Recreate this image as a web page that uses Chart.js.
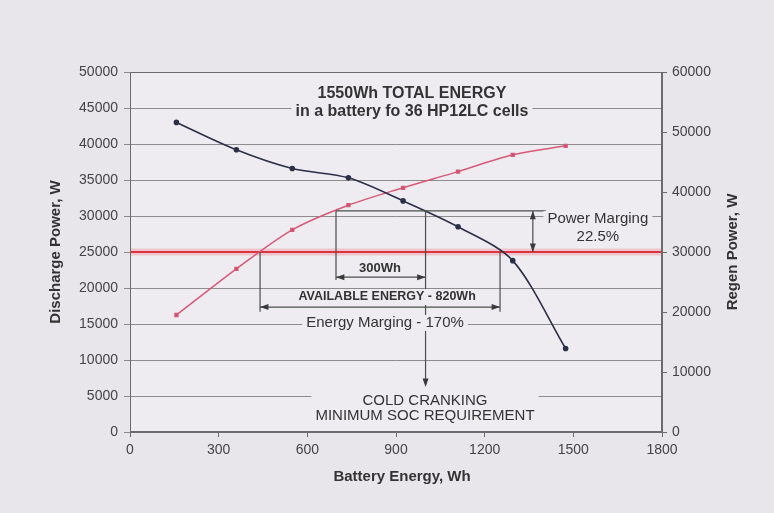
<!DOCTYPE html>
<html>
<head>
<meta charset="utf-8">
<script src="https://cdn.jsdelivr.net/npm/chart.js@4.4.0/dist/chart.umd.min.js"></script>
<style>
  body { margin: 0; background: #e9e6eb; }
  #wrap { width: 774px; height: 513px; }
</style>
</head>
<body>
<div id="wrap"><canvas id="chart"></canvas></div>
<script>
// values
const energyWh = [157, 360, 549, 739, 924, 1110, 1295, 1474];
const dischargeW = [43000, 39200, 36600, 35300, 32100, 28500, 23800, 11600];
const regenW = [19500, 27200, 33700, 37800, 40700, 43400, 46200, 47700];
const limitEnergy = [0, 1800];
const limitW = [25000, 25000];

const energyTicks = [0, 300, 600, 900, 1200, 1500, 1800];
const dischargeTicks = [0, 5000, 10000, 15000, 20000, 25000, 30000, 35000, 40000, 45000, 50000];
const regenTicks = [0, 10000, 20000, 30000, 40000, 50000, 60000];

// annotation values (Wh / W)
const marginW = 30700;
const window300 = [697, 1000];
const window820 = [440, 1252];
const powerMarginWh = 1363;
const marginLineEnd = 1407;

const PAGE = '#e9e6eb';
const PLOT = '#eeecf0';
const INK = '#333333';
const FONT = '"Liberation Sans", Arial, sans-serif';

function arrowHead(ctx, x, y, dir, size) {
  const s = size || 6;
  ctx.beginPath();
  ctx.moveTo(x, y);
  if (dir === 'left') { ctx.lineTo(x + s * 1.4, y - s / 2); ctx.lineTo(x + s * 1.4, y + s / 2); }
  if (dir === 'right') { ctx.lineTo(x - s * 1.4, y - s / 2); ctx.lineTo(x - s * 1.4, y + s / 2); }
  if (dir === 'up') { ctx.lineTo(x - s / 2, y + s * 1.4); ctx.lineTo(x + s / 2, y + s * 1.4); }
  if (dir === 'down') { ctx.lineTo(x - s / 2, y - s * 1.4); ctx.lineTo(x + s / 2, y - s * 1.4); }
  ctx.closePath();
  ctx.fill();
}

// one or more centred lines, with an optional box behind them all
function label(ctx, lines, x, y, font, bg, gap) {
  ctx.font = font;
  const step = gap || 17;
  const w = Math.max(...lines.map(t => ctx.measureText(t).width));
  if (bg) {
    ctx.fillStyle = PLOT;
    ctx.fillRect(x - w / 2 - 4, y - 8, w + 8, 16 + step * (lines.length - 1));
  }
  ctx.fillStyle = INK;
  ctx.textAlign = 'center';
  ctx.textBaseline = 'middle';
  lines.forEach((t, i) => ctx.fillText(t, x, y + i * step));
}

const backdrop = {
  id: 'backdrop',
  beforeDraw(chart) {
    const {ctx, chartArea: a} = chart;
    ctx.save();
    ctx.fillStyle = PAGE;
    ctx.fillRect(0, 0, chart.width, chart.height);
    ctx.fillStyle = PLOT;
    ctx.fillRect(a.left, a.top, a.right - a.left, a.bottom - a.top);
    ctx.restore();
  },
  afterDraw(chart) {
    const {ctx, chartArea: a} = chart;
    const X = v => chart.scales.x.getPixelForValue(v);
    const Y = v => chart.scales.y.getPixelForValue(v);
    ctx.save();

    // frame
    ctx.strokeStyle = '#6b6b6b';
    ctx.lineWidth = 1;
    ctx.strokeRect(a.left + 0.5, a.top + 0.5, a.right - a.left - 1, a.bottom - a.top - 1);

    // annotation lines
    ctx.strokeStyle = '#4a4f4a';
    ctx.fillStyle = '#3a3a3a';
    ctx.lineWidth = 1.2;
    const yM = Y(marginW);
    ctx.beginPath();
    ctx.moveTo(X(window300[0]), yM); ctx.lineTo(X(marginLineEnd), yM);
    // 300Wh window
    ctx.moveTo(X(window300[0]), yM); ctx.lineTo(X(window300[0]), Y(21100));
    ctx.moveTo(X(window300[1]), yM); ctx.lineTo(X(window300[1]), Y(6600));
    ctx.moveTo(X(window300[0]), Y(21500)); ctx.lineTo(X(window300[1]), Y(21500));
    // 820Wh window
    ctx.moveTo(X(window820[0]), Y(25000)); ctx.lineTo(X(window820[0]), Y(16700));
    ctx.moveTo(X(window820[1]), Y(25000)); ctx.lineTo(X(window820[1]), Y(16700));
    ctx.moveTo(X(window820[0]), Y(17350)); ctx.lineTo(X(window820[1]), Y(17350));
    // power margin
    ctx.moveTo(X(powerMarginWh), yM); ctx.lineTo(X(powerMarginWh), Y(25000));
    ctx.stroke();

    arrowHead(ctx, X(window300[0]), Y(21500), 'left');
    arrowHead(ctx, X(window300[1]), Y(21500), 'right');
    arrowHead(ctx, X(window820[0]), Y(17350), 'left');
    arrowHead(ctx, X(window820[1]), Y(17350), 'right');
    arrowHead(ctx, X(powerMarginWh), yM, 'up');
    arrowHead(ctx, X(powerMarginWh), Y(25000), 'down');
    arrowHead(ctx, X(window300[1]), Y(6250), 'down');

    // texts
    label(ctx, ['1550Wh TOTAL ENERGY', 'in a battery fo 36 HP12LC cells'], X(954), Y(47000), 'bold 16px ' + FONT, true, 18);
    label(ctx, ['Power Marging', '22.5%'], X(1583), Y(29580), '15px ' + FONT, true, 18);
    label(ctx, ['300Wh'], X(846), Y(22780), 'bold 13px ' + FONT, false);
    label(ctx, ['AVAILABLE ENERGY - 820Wh'], X(870), Y(18750), 'bold 12.5px ' + FONT, true);
    label(ctx, ['Energy Marging - 170%'], X(863), Y(15140), '15px ' + FONT, true);
    label(ctx, ['COLD CRANKING', 'MINIMUM SOC REQUIREMENT'], X(998), Y(4300), '15px ' + FONT, true, 15);

    // axis titles
    ctx.font = 'bold 15px ' + FONT;
    ctx.fillStyle = INK;
    ctx.textAlign = 'center';
    ctx.textBaseline = 'middle';
    ctx.fillText('Battery Energy, Wh', 402, 477);
    ctx.save();
    ctx.translate(56, (a.top + a.bottom) / 2);
    ctx.rotate(-Math.PI / 2);
    ctx.fillText('Discharge Power, W', 0, 0);
    ctx.restore();
    ctx.save();
    ctx.translate(733, (a.top + a.bottom) / 2);
    ctx.rotate(-Math.PI / 2);
    ctx.fillText('Regen Power, W', 0, 0);
    ctx.restore();

    ctx.restore();
  }
};

const tickFont = {family: FONT, size: 14};
const plain = v => String(v);

new Chart(document.getElementById('chart'), {
  type: 'line',
  data: {
    datasets: [
      {
        label: 'Discharge Power',
        data: energyWh.map((x, i) => ({x, y: dischargeW[i]})),
        yAxisID: 'y',
        borderColor: '#2b2f48',
        backgroundColor: '#2b2f48',
        borderWidth: 1.6,
        pointRadius: 2,
        pointStyle: 'circle',
        tension: 0.3,
        order: 1
      },
      {
        label: 'Regen Power',
        data: energyWh.map((x, i) => ({x, y: regenW[i]})),
        yAxisID: 'y2',
        borderColor: '#d65a78',
        backgroundColor: '#c9435f',
        borderWidth: 1.5,
        pointRadius: 2,
        pointStyle: 'rect',
        tension: 0.3,
        order: 2
      },
      {
        label: 'Limit',
        data: limitEnergy.map((x, i) => ({x, y: limitW[i]})),
        yAxisID: 'y',
        borderColor: '#df3341',
        borderWidth: 2,
        pointRadius: 0,
        order: 3
      },
      {
        label: 'Limit glow',
        data: limitEnergy.map((x, i) => ({x, y: limitW[i]})),
        yAxisID: 'y',
        borderColor: 'rgba(236,130,140,0.35)',
        borderWidth: 7,
        pointRadius: 0,
        order: 4
      }
    ]
  },
  options: {
    responsive: true,
    maintainAspectRatio: false,
    animation: false,
    devicePixelRatio: 1,
    layout: {padding: {top: 72, left: 0, right: 0, bottom: 0}},
    plugins: {legend: {display: false}, tooltip: {enabled: false}},
    scales: {
      x: {
        type: 'linear',
        min: 0, max: 1800,
        afterBuildTicks: s => { s.ticks = energyTicks.map(v => ({value: v})); },
        afterFit: s => { s.height = 81; },
        grid: {drawOnChartArea: false, tickLength: 5, color: '#6b6b6b'},
        border: {color: '#6b6b6b'},
        ticks: {font: tickFont, color: '#444', padding: 5, callback: plain, maxRotation: 0}
      },
      y: {
        position: 'left',
        min: 0, max: 50000,
        afterBuildTicks: s => { s.ticks = dischargeTicks.map(v => ({value: v})); },
        afterFit: s => { s.width = 130; },
        grid: {color: '#8c8c8c', tickLength: 6, lineWidth: 1},
        border: {color: '#6b6b6b'},
        ticks: {font: tickFont, color: '#444', padding: 6, callback: plain}
      },
      y2: {
        position: 'right',
        min: 0, max: 60000,
        afterBuildTicks: s => { s.ticks = regenTicks.map(v => ({value: v})); },
        afterFit: s => { s.width = 112; },
        grid: {drawOnChartArea: false, tickLength: 5, color: '#6b6b6b'},
        border: {color: '#6b6b6b'},
        ticks: {font: tickFont, color: '#444', padding: 5, callback: plain}
      }
    }
  },
  plugins: [backdrop]
});
</script>
</body>
</html>
